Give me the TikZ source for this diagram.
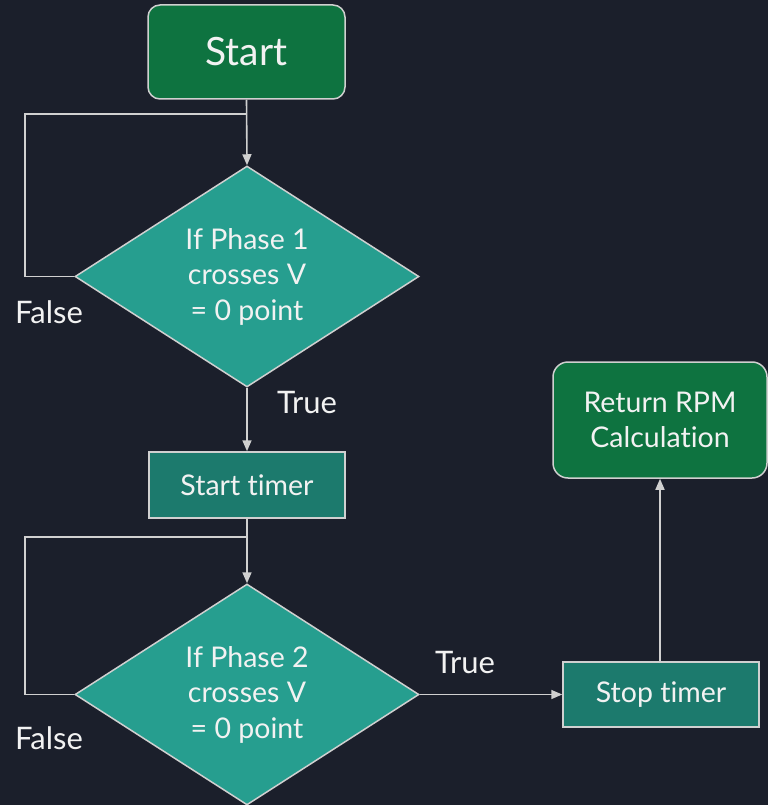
\documentclass[tikz,border=0pt]{standalone}
\usepackage{fontspec}
\setmainfont{Lato}[Ligatures={NoCommon,NoRare}]
\usetikzlibrary{shapes.geometric,arrows.meta}
\definecolor{bgc}{HTML}{1B1F2B}
\definecolor{termc}{HTML}{0E7340}
\definecolor{decc}{HTML}{269E8F}
\definecolor{procc}{HTML}{1C7A6D}
\definecolor{linec}{HTML}{D0D0D0}
\definecolor{txtc}{HTML}{F2F2F2}
\tikzset{
  base/.style={draw=linec, line width=1.5pt, text=txtc, align=center, inner sep=0pt,
    font=\fontsize{28.5}{35.5}\selectfont},
  term/.style={base, fill=termc, rounded corners=12pt},
  proc/.style={base, fill=procc},
  dec/.style={base, fill=decc, shape=diamond, aspect=1.5, minimum width=344pt, minimum height=221pt},
  conn/.style={draw=linec, line width=1.6pt},
  arr/.style={conn, -{Triangle[length=11pt,width=9pt]}},
  lbl/.style={text=txtc, inner sep=0pt, font=\fontsize{31}{36}\selectfont}
}
\begin{document}
\begin{tikzpicture}[x=1pt,y=-1pt]
\fill[bgc] (0,0) rectangle (768,805);
\useasboundingbox (0,0) rectangle (768,805);

\node[term, minimum width=197pt, minimum height=94pt, font=\fontsize{39}{44}\selectfont] (start) at (246.5,52) {Start};
\node[dec] (d1) at (247,276.5) {If Phase 1\\crosses V\\= 0 point};
\node[proc, minimum width=196pt, minimum height=66pt] (t1) at (247,485) {Start timer};
\node[dec] (d2) at (247,694.5) {If Phase 2\\crosses V\\= 0 point};
\node[proc, minimum width=196pt, minimum height=65pt] (t2) at (661,694.5) {Stop timer};
\node[term, minimum width=214pt, minimum height=116pt, rounded corners=15pt] (ret) at (660,420) {Return RPM\\Calculation};

\coordinate (l1) at (25,114);
\coordinate (l2) at (25,537);

\draw[arr] (start.south) -- (d1.north);
\draw[conn] (d1.west) -| (l1) -- (l1 -| start.south);
\draw[arr] (d1.south) -- (t1.north);
\draw[arr] (t1.south) -- (d2.north);
\draw[conn] (d2.west) -| (l2) -- (l2 -| t1.south);
\draw[arr] (d2.east) -- (t2.west);
\draw[arr] (t2.north -| ret.south) -- (ret.south);

\node[lbl] (f1) at (49,312) {False};
\node[lbl] (tr1) at (307,403) {True};
\node[lbl] (tr2) at (465,663) {True};
\node[lbl] (f2) at (49,738) {False};
\end{tikzpicture}
\end{document}
